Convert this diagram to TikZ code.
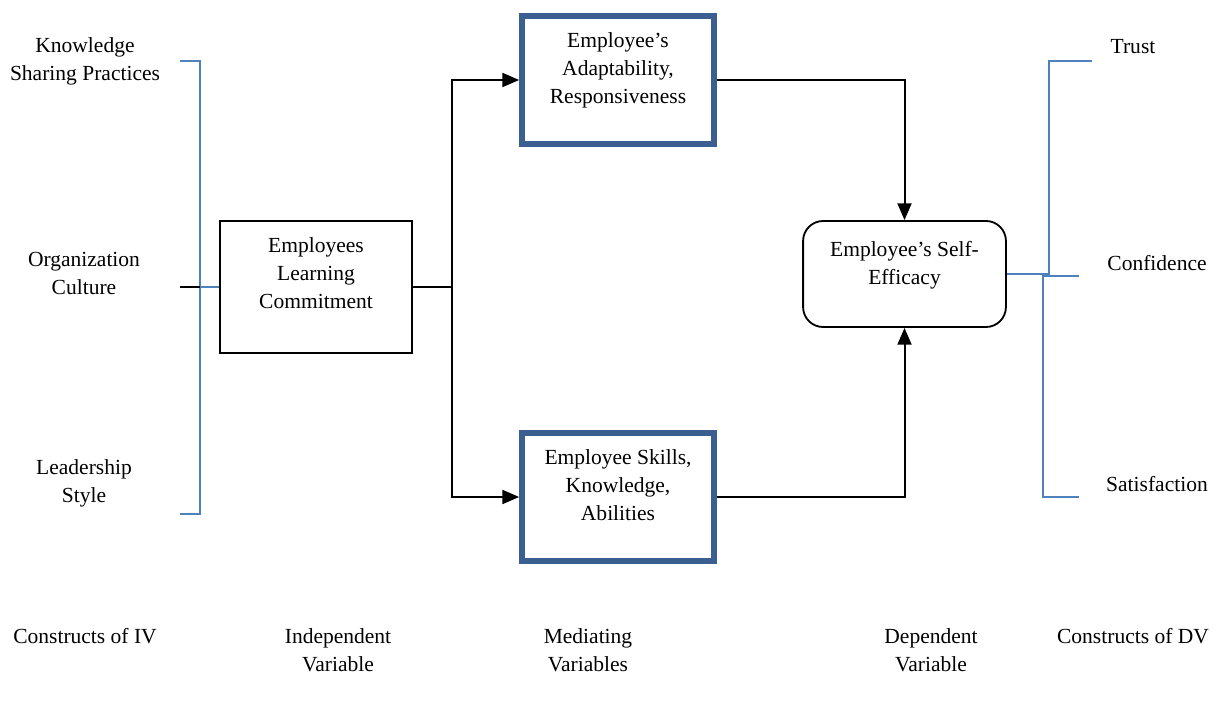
\documentclass[tikz,border=0pt]{standalone}
\usepackage{fontspec}
\setmainfont{Liberation Serif}
\usetikzlibrary{arrows.meta}
\definecolor{bracketblue}{RGB}{79,129,189}
\definecolor{boxblue}{RGB}{60,95,145}
\tikzset{
    label text/.style={align=center,inner sep=0pt,font=\fontsize{15.3}{19.9}\selectfont},
    ivbox/.style={draw,line width=1.6pt,minimum width=4.8cm,minimum height=3.3cm},
    medbox/.style={draw=boxblue,line width=4pt,minimum width=4.8cm,minimum height=3.2cm},
    dvbox/.style={draw,line width=1.3pt,rounded corners=0.5cm,minimum width=5.07cm,minimum height=2.65cm},
    link/.style={line width=1.4pt},
    arrowlink/.style={line width=1.4pt,-{Triangle[length=0.42cm,width=0.35cm]}},
    bracket/.style={draw=bracketblue,line width=1.3pt}
}
\begin{document}
\begin{tikzpicture}[x=0.025cm,y=-0.025cm]
        \useasboundingbox (0,0) rectangle (1220,701);
        %% Boxes
        \node[ivbox] (iv) at (316,287) {};
        \node[label text] (ivtext) at (316,273) {Employees\\Learning\\Commitment};
        \node[medbox] (adapt) at (618,80) {};
        \node[label text] (adapttext) at (618,70) {Employee's\\Adaptability,\\Responsiveness};
        \node[medbox] (skill) at (618,497) {};
        \node[label text] (skilltext) at (618,485) {Employee Skills,\\Knowledge,\\Abilities};
        \node[dvbox] (dv) at (904.5,274) {};
        \node[label text] (dvtext) at (904.5,265) {Employee's Self-\\Efficacy};
        %% Constructs of IV
        \node[label text] (know) at (85,61) {Knowledge\\Sharing Practices};
        \node[label text] (culture) at (84,273) {Organization\\Culture};
        \node[label text] (lead) at (84,483) {Leadership\\Style};
        \draw[bracket] (180,61) -- (200,61) -- (200,514) -- (180,514);
        \draw[link] (180,287) -- (200,287);
        \draw[bracket] (200,287) -- (iv.west);
        %% Paths to the mediators
        \draw[link] (iv.east) -- (452,287) coordinate (split);
        \draw[arrowlink] (split) |- (adapt.west);
        \draw[arrowlink] (split) |- (skill.west);
        \draw[arrowlink] (adapt.east) -| (dv.north);
        \draw[arrowlink] (skill.east) -| (dv.south);
        %% Constructs of DV
        \node[label text] (trust) at (1133,47) {Trust};
        \node[label text] (conf) at (1157,263) {Confidence};
        \node[label text] (satis) at (1157,484) {Satisfaction};
        \draw[bracket] (1092,61) -- (1049,61) -- (1049,274) -- (dv.east);
        \draw[bracket] (1043,274) -- (1043,497) -- (1079,497);
        \draw[bracket] (1043,276) -- (1079,276);
        %% Captions
        \node[label text] (capiv) at (85,636) {Constructs of IV};
        \node[label text] (capind) at (338,650) {Independent\\Variable};
        \node[label text] (capmed) at (588,650) {Mediating\\Variables};
        \node[label text] (capdep) at (931,650) {Dependent\\Variable};
        \node[label text] (capdv) at (1133,636) {Constructs of DV};
    \end{tikzpicture}
\end{document}
